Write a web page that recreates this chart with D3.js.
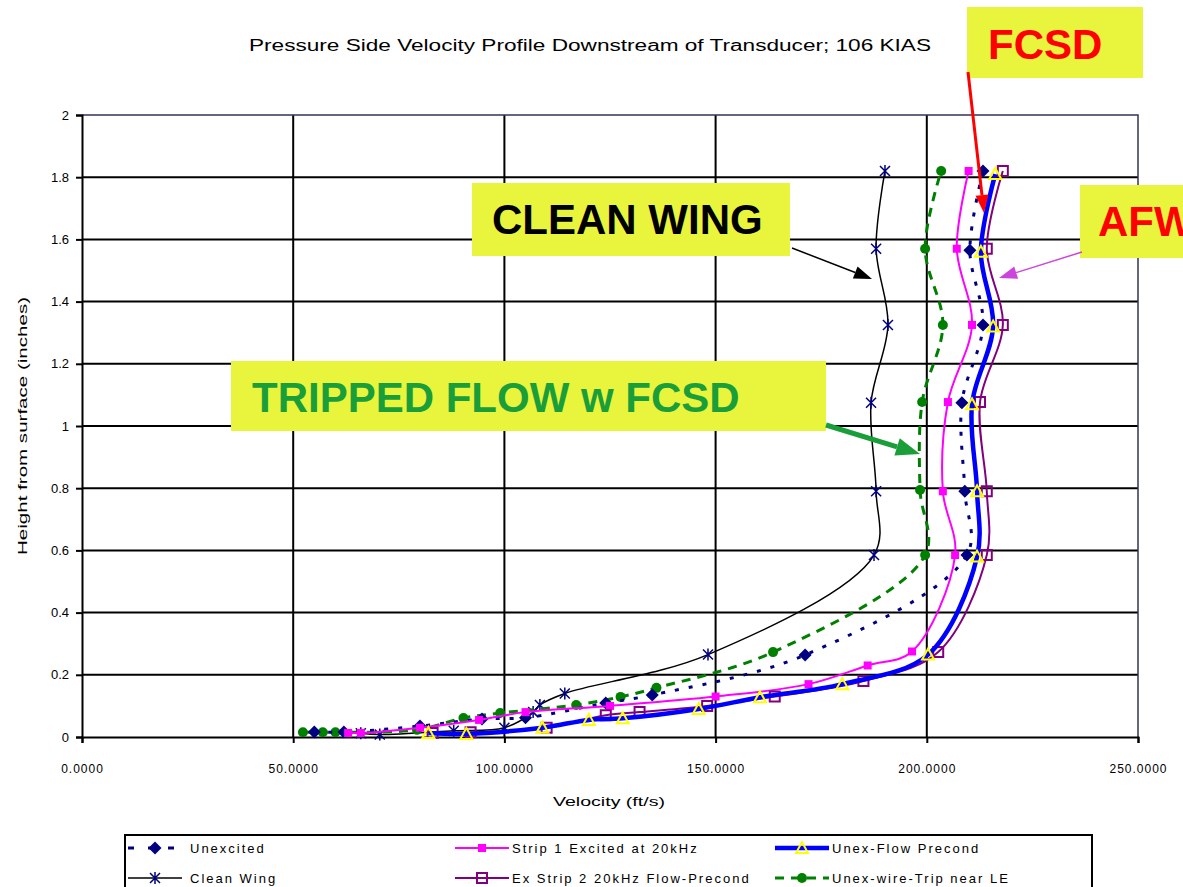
<!DOCTYPE html>
<html><head><meta charset="utf-8">
<script src="https://cdn.jsdelivr.net/npm/d3@7"></script>
<style>
body{margin:0;background:#fff}
svg{display:block}
text{font-family:"Liberation Sans",Arial,sans-serif}
</style>
</head><body>
<svg id="c" width="1183" height="887"></svg>
<script>
// ---------- DATA ----------
const xTicks = [0, 50, 100, 150, 200, 250];
const yTicks = [0, 0.2, 0.4, 0.6, 0.8, 1, 1.2, 1.4, 1.6, 1.8, 2];

const chartTitle = "Pressure Side Velocity Profile Downstream of Transducer; 106 KIAS";
const xTitle = "Velocity (ft/s)";
const yTitle = "Height from surface (inches)";

// Unexcited
const unexcitedV = [55, 62, 80, 94.7, 105, 124, 135, 171.2, 209.5, 209.0, 208.3, 213.3, 210.2, 213.3];
const unexcitedH = [0.016, 0.016, 0.035, 0.058, 0.062, 0.109, 0.135, 0.264, 0.585, 0.79, 1.075, 1.325, 1.565, 1.82];
// Clean Wing
const cleanV = [66, 70.5, 88, 100, 106.8, 108.4, 114.3, 148.2, 187.5, 188.0, 186.8, 190.8, 188.0, 190.1];
const cleanH = [0.012, 0.008, 0.02, 0.03, 0.08, 0.103, 0.14, 0.265, 0.585, 0.79, 1.075, 1.325, 1.57, 1.82];
// Strip 1 Excited at 20kHz
const strip1V = [63, 66, 80, 94, 105, 125, 150, 172, 186, 196.5, 206.7, 203.8, 205.0, 210.7, 207.1, 209.9];
const strip1H = [0.013, 0.013, 0.03, 0.055, 0.08, 0.1, 0.13, 0.17, 0.23, 0.275, 0.585, 0.79, 1.077, 1.325, 1.57, 1.82];
// Ex Strip 2 20kHz Flow-Precond
const strip2V = [83, 92, 110, 124, 132, 148, 164, 185, 202.7, 214.2, 214.2, 212.6, 218.0, 214.2, 218.0];
const strip2H = [0.013, 0.015, 0.03, 0.07, 0.08, 0.1, 0.13, 0.18, 0.273, 0.585, 0.79, 1.077, 1.325, 1.57, 1.82];
// Unex-Flow Precond
const flowV = [82, 91, 109, 120, 128, 146, 160.5, 180, 200.3, 211.9, 211.9, 210.7, 215.7, 212.8, 216.2];
const flowH = [0.013, 0.01, 0.03, 0.055, 0.06, 0.09, 0.128, 0.17, 0.265, 0.58, 0.79, 1.07, 1.32, 1.56, 1.81];
// Unex-wire-Trip near LE
const tripV = [52.3, 57, 60, 79.3, 90.3, 99, 117, 127.5, 136, 163.6, 199.6, 198.4, 198.9, 203.8, 199.6, 203.4];
const tripH = [0.015, 0.015, 0.015, 0.023, 0.061, 0.077, 0.103, 0.129, 0.158, 0.273, 0.585, 0.794, 1.077, 1.325, 1.57, 1.82];

const seriesNames = ["Unexcited", "Strip 1 Excited at 20kHz", "Unex-Flow Precond",
                     "Clean Wing", "Ex Strip 2 20kHz Flow-Precond", "Unex-wire-Trip near LE"];

const annotationTexts = ["FCSD", "CLEAN WING", "AFW", "TRIPPED FLOW w FCSD"];

// ---------- STYLES ----------
const styles = {
  "Unexcited": {color:"#000080", width:3, dash:"4,10", marker:"diamond"},
  "Strip 1 Excited at 20kHz": {color:"#ff00ff", width:2, dash:null, marker:"square"},
  "Unex-Flow Precond": {color:"#0000ff", width:4.5, dash:null, marker:"triangle"},
  "Clean Wing": {color:"#000000", width:1.5, dash:null, marker:"star"},
  "Ex Strip 2 20kHz Flow-Precond": {color:"#800080", width:2, dash:null, marker:"opensquare"},
  "Unex-wire-Trip near LE": {color:"#008000", width:3, dash:"9,7", marker:"circle"}
};
const seriesData = {
  "Unexcited": [unexcitedV, unexcitedH],
  "Strip 1 Excited at 20kHz": [strip1V, strip1H],
  "Unex-Flow Precond": [flowV, flowH],
  "Clean Wing": [cleanV, cleanH],
  "Ex Strip 2 20kHz Flow-Precond": [strip2V, strip2H],
  "Unex-wire-Trip near LE": [tripV, tripH]
};
const drawOrder = ["Clean Wing", "Unex-wire-Trip near LE", "Unexcited", "Strip 1 Excited at 20kHz",
                   "Ex Strip 2 20kHz Flow-Precond", "Unex-Flow Precond"];

// ---------- CHART ----------
const svg = d3.select("#c");
const x = d3.scaleLinear().domain([0, 250]).range([82, 1138]);
const y = d3.scaleLinear().domain([0, 2]).range([737, 115]);

svg.append("rect").attr("width",1183).attr("height",887).attr("fill","#fff");

// gridlines
svg.append("g").selectAll("line.h").data(yTicks.filter(d=>d>0 && d<2)).join("line")
  .attr("x1", x(0)).attr("x2", x(250)).attr("y1", d=>y(d)).attr("y2", d=>y(d))
  .attr("stroke","#000").attr("stroke-width",2);
svg.append("g").selectAll("line.v").data(xTicks.filter(d=>d>0 && d<250)).join("line")
  .attr("y1", y(0)).attr("y2", y(2)).attr("x1", d=>x(d)).attr("x2", d=>x(d))
  .attr("stroke","#000").attr("stroke-width",2);
// top/right border
svg.append("path").attr("d", `M${x(0)},${y(2)}H${x(250)}V${y(0)}`)
  .attr("fill","none").attr("stroke","#333355").attr("stroke-width",1.5);

// axes
const yAxis = svg.append("g").attr("transform",`translate(${x(0)},0)`)
  .call(d3.axisLeft(y).tickValues(yTicks).tickSize(6).tickPadding(7)
        .tickFormat(d => String(+d.toFixed(1))));
const xAxis = svg.append("g").attr("transform",`translate(0,${y(0)})`)
  .call(d3.axisBottom(x).tickValues(xTicks).tickSize(6).tickPadding(21)
        .tickFormat(d3.format(".4f")));
[yAxis, xAxis].forEach(a => {
  a.select(".domain").attr("stroke","#000").attr("stroke-width",2);
  a.selectAll(".tick line").attr("stroke","#000").attr("stroke-width",2);
  a.selectAll(".tick text").attr("fill","#000").attr("font-size",13)
    .attr("font-family",'"Liberation Sans",Arial,sans-serif');
});
xAxis.selectAll(".tick text").attr("font-size",12).attr("letter-spacing","1px");

// markers
function markerPath(type){
  switch(type){
    case "diamond": return "M0,-6.5L6.5,0L0,6.5L-6.5,0Z";
    case "square": return "M-4,-4H4V4H-4Z";
    case "opensquare": return "M-5,-5H5V5H-5Z";
    case "triangle": return "M0,-6L6,5H-6Z";
    case "circle": return "M-5,0A5,5 0 1,0 5,0A5,5 0 1,0 -5,0Z";
    case "star": return "M-5,-5L5,5M-5,5L5,-5M0,-6V6";
  }
}
function styleMarker(sel, st){
  const t = st.marker;
  if (t==="diamond"||t==="square"||t==="circle") sel.attr("fill", st.color).attr("stroke","none");
  else if (t==="opensquare") sel.attr("fill","none").attr("stroke", st.color).attr("stroke-width",2);
  else if (t==="triangle") sel.attr("fill","none").attr("stroke","#ffff00").attr("stroke-width",2);
  else if (t==="star") sel.attr("fill","none").attr("stroke","#000080").attr("stroke-width",1.5);
}

const line = d3.line().x(d=>x(d.v)).y(d=>y(d.h)).curve(d3.curveCatmullRom.alpha(0.5));
const plot = svg.append("g");
drawOrder.forEach(name => {
  const st = styles[name];
  const [vs, hs] = seriesData[name];
  const pts = vs.map((v,i)=>({v, h:hs[i]}));
  plot.append("path").datum(pts).attr("d", line).attr("fill","none")
    .attr("stroke", st.color).attr("stroke-width", st.width)
    .attr("stroke-dasharray", st.dash).attr("stroke-linejoin","round");
  plot.append("g").selectAll("path").data(pts).join("path")
    .attr("transform", d=>`translate(${x(d.v)},${y(d.h)})`)
    .attr("d", markerPath(st.marker))
    .call(styleMarker, st);
});

// titles
svg.append("text").attr("x",590).attr("y",51).attr("text-anchor","middle")
  .attr("font-size",16).attr("textLength",682).attr("lengthAdjust","spacingAndGlyphs").text(chartTitle);
svg.append("text").attr("x",609).attr("y",806).attr("text-anchor","middle")
  .attr("font-size",13).attr("textLength",112).attr("lengthAdjust","spacingAndGlyphs").text(xTitle);
svg.append("text").attr("transform","translate(27,426) rotate(-90)").attr("text-anchor","middle")
  .attr("font-size",13).attr("textLength",258).attr("lengthAdjust","spacingAndGlyphs").text(yTitle);

// legend
const lg = svg.append("g");
lg.append("rect").attr("x",125).attr("y",835).attr("width",967).attr("height",62)
  .attr("fill","#fff").attr("stroke","#000").attr("stroke-width",2);
const legendPos = [[128,848],[455,848],[775,848],[128,878],[455,878],[775,878]];
seriesNames.forEach((name,i)=>{
  const st = styles[name];
  const [lx, ly] = legendPos[i];
  const g = lg.append("g");
  g.append("line").attr("x1",lx).attr("x2",lx+54).attr("y1",ly).attr("y2",ly)
    .attr("stroke",st.color).attr("stroke-width",st.width)
    .attr("stroke-dasharray", st.dash ? (name==="Unexcited" ? "6,14" : st.dash) : null);
  g.append("path").attr("transform",`translate(${lx+27},${ly})`).attr("d",markerPath(st.marker)).call(styleMarker, st);
  g.append("text").attr("x", lx+ (i%3===0?62:57)).attr("y", ly+5).attr("font-size",13)
    .attr("letter-spacing","2px").text(name);
});

// annotations
const ann = svg.append("g");
function box(x0,y0,w,h){ ann.append("rect").attr("x",x0).attr("y",y0).attr("width",w).attr("height",h).attr("fill","#e8f53c"); }
function label(tx,ty,color,txt){ ann.append("text").attr("x",tx).attr("y",ty).attr("font-size",42)
  .attr("font-weight","bold").attr("fill",color).text(txt); }
function arrow(x1,y1,x2,y2,color,w,hl,hw){
  const a = Math.atan2(y2-y1,x2-x1);
  const bx = x2 - hl*Math.cos(a), by = y2 - hl*Math.sin(a);
  ann.append("line").attr("x1",x1).attr("y1",y1).attr("x2",bx).attr("y2",by)
    .attr("stroke",color).attr("stroke-width",w);
  const px = -Math.sin(a)*hw/2, py = Math.cos(a)*hw/2;
  ann.append("path").attr("d",`M${x2},${y2}L${bx+px},${by+py}L${bx-px},${by-py}Z`).attr("fill",color);
}
box(967,7,176,71);   label(988,59,"#ff0000",annotationTexts[0]);
box(472,183,318,73); label(492,234,"#000000",annotationTexts[1]);
box(1080,185,110,73); label(1098,236,"#ff0000",annotationTexts[2]);
box(231,361,595,70); label(252,412,"#1a9e3a",annotationTexts[3]);
arrow(968,72,984,213,"#ff0000",3,18,13);
arrow(792,248,872,279,"#000000",1.5,18,13);
arrow(1082,252,999,278,"#cc44dd",1.5,18,13);
arrow(826,425,920,454,"#1a9e3a",5,24,18);
</script>
</body></html>
